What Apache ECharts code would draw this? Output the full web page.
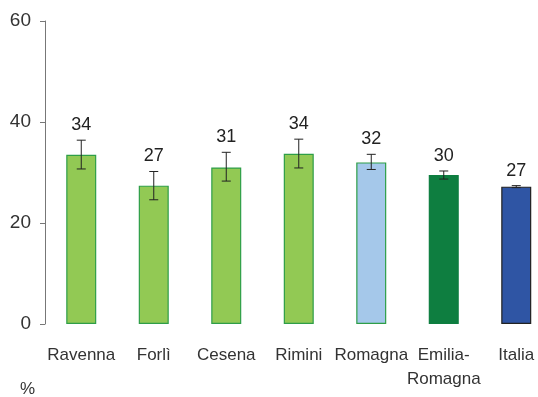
<!DOCTYPE html>
<html>
<head>
<meta charset="utf-8">
<script src="https://cdn.jsdelivr.net/npm/echarts@6/dist/echarts.min.js"></script>
<style>
  html, body { margin: 0; padding: 0; background: #fff; }
  #chart { width: 538px; height: 397px; }
</style>
</head>
<body>
<div id="chart"></div>
<script>
// Areas compared
const categories = ['Ravenna', 'Forlì', 'Cesena', 'Rimini', 'Romagna', 'Emilia-\nRomagna', 'Italia'];
// Percentage per area
const values = [33.5, 27.4, 31.0, 33.7, 32.0, 29.5, 27.2];
// Confidence interval bounds
const lowerCI = [30.7, 24.6, 28.3, 30.9, 30.6, 28.7, 27.0];
const upperCI = [36.4, 30.2, 34.0, 36.6, 33.6, 30.3, 27.4];
// Y axis ticks
const yTicks = [0, 20, 40, 60];

const fills = ['#92c954', '#92c954', '#92c954', '#92c954', '#a5c8ea', '#0e7e40', '#2f55a4'];
const borders = ['#2e9e48', '#2e9e48', '#2e9e48', '#2e9e48', '#2e9e48', '#0e7e40', '#222222'];

const FONT = '"Liberation Sans", Arial, sans-serif';
const positions = categories.map((c, i) => i);
const chart = echarts.init(document.getElementById('chart'), null, { renderer: 'canvas' });

chart.setOption({
  animation: false,
  grid: { left: 45, top: 21, right: 0, bottom: 73, containLabel: false },
  // Numeric x axis so the last slot can run past the right edge
  xAxis: {
    type: 'value',
    min: -0.5,
    max: 6.3,
    splitLine: { show: false },
    axisLine: { show: false, onZero: false },
    axisTick: { show: false },
    axisLabel: {
      customValues: positions,
      formatter: function (v) { return categories[Math.round(v)] || ''; },
      margin: 19,
      color: '#333',
      fontFamily: FONT,
      fontSize: 17,
      lineHeight: 24
    }
  },
  yAxis: {
    type: 'value',
    min: yTicks[0],
    max: yTicks[yTicks.length - 1],
    interval: 20,
    splitLine: { show: false },
    axisLine: { show: true, onZero: false, lineStyle: { color: '#777', width: 1 } },
    axisTick: { show: true, length: 5, lineStyle: { color: '#777' } },
    axisLabel: { color: '#333', fontFamily: FONT, fontSize: 19, margin: 14 }
  },
  graphic: [{
    type: 'text',
    left: 20,
    top: 381,
    style: { text: '%', fill: '#333', font: '17px ' + FONT }
  }],
  series: [
    {
      type: 'bar',
      barWidth: 30,
      data: values.map((v, i) => ({
        value: [positions[i], v],
        itemStyle: { color: fills[i], borderColor: borders[i], borderWidth: 1.2 }
      }))
    },
    {
      type: 'custom',
      data: values.map((v, i) => [positions[i], lowerCI[i], upperCI[i], v]),
      encode: { x: 0, y: [1, 2] },
      z: 10,
      renderItem: function (params, api) {
        const x = api.value(0);
        const lo = api.coord([x, api.value(1)]);
        const hi = api.coord([x, api.value(2)]);
        const cap = 4.5;
        const style = { stroke: '#222', lineWidth: 1 };
        return {
          type: 'group',
          children: [
            { type: 'line', shape: { x1: hi[0], y1: hi[1], x2: lo[0], y2: lo[1] }, style: style },
            { type: 'line', shape: { x1: hi[0] - cap, y1: hi[1], x2: hi[0] + cap, y2: hi[1] }, style: style },
            { type: 'line', shape: { x1: lo[0] - cap, y1: lo[1], x2: lo[0] + cap, y2: lo[1] }, style: style },
            {
              type: 'text',
              x: hi[0],
              y: hi[1] - 6,
              style: {
                text: String(Math.round(api.value(3))),
                fill: '#222',
                font: '18px ' + FONT,
                align: 'center',
                verticalAlign: 'bottom'
              }
            }
          ]
        };
      }
    }
  ]
});
</script>
</body>
</html>
